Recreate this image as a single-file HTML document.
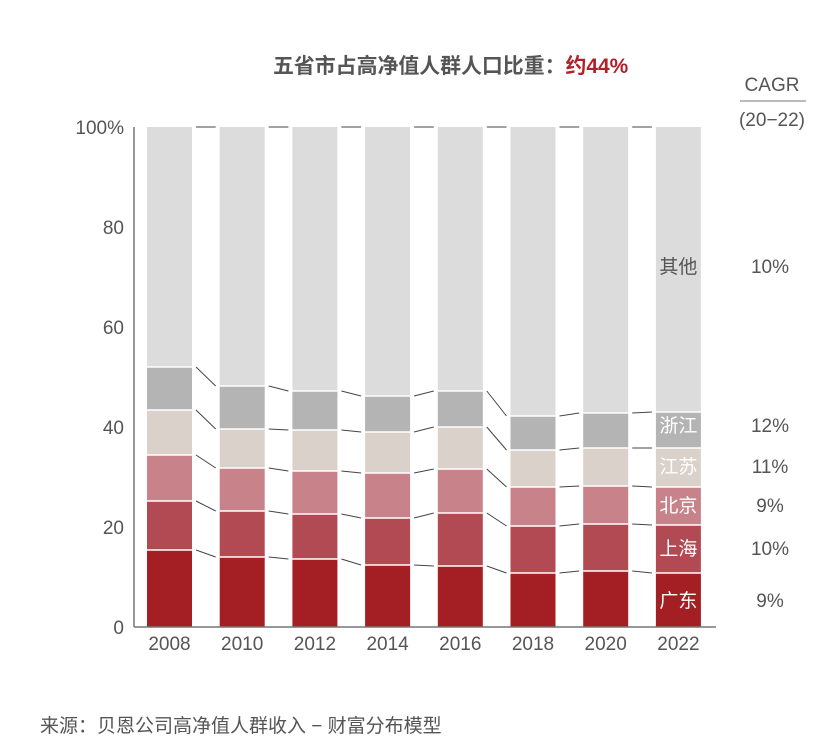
<!DOCTYPE html>
<html><head><meta charset="utf-8">
<style>
body{margin:0;background:#fff;width:817px;height:750px;overflow:hidden}
svg{display:block}
text{font-family:"Liberation Sans","Noto Sans CJK SC",sans-serif}
</style></head><body>
<svg id="s" width="817" height="750" xmlns="http://www.w3.org/2000/svg">
<text x="273" y="73" font-size="20.9" font-weight="bold" fill="#555">五省市占高净值人群人口比重：<tspan fill="#b2202a">约44%</tspan></text>
<text x="772" y="91" font-size="19" fill="#555" text-anchor="middle">CAGR</text>
<line x1="740" y1="101" x2="806" y2="101" stroke="#777" stroke-width="1"/>
<text x="772" y="126" font-size="19" fill="#555" text-anchor="middle">(20−22)</text>
<text x="40" y="732" font-size="19" fill="#555">来源：贝恩公司高净值人群收入 − 财富分布模型</text>
</svg>
<script>
var s=document.getElementById('s'),ns='http://www.w3.org/2000/svg';
function el(t,a,txt){var e=document.createElementNS(ns,t);for(var k in a)e.setAttribute(k,a[k]);if(txt!==undefined)e.textContent=String(txt);s.appendChild(e);return e;}
var Y=function(v){return 627-5*v;};
var years=[2008,2010,2012,2014,2016,2018,2020,2022];
var data=[[15.4,25.2,34.4,43.4,52],[14,23.2,31.8,39.6,48.2],[13.6,22.6,31.2,39.4,47.2],[12.4,21.8,30.8,39,46.2],[12.2,22.8,31.6,40,47.2],[10.8,20.2,28,35.4,42.2],[11.2,20.6,28.2,35.8,42.8],[10.8,20.4,28,35.8,43]];
var cols=['#a31f24','#b14a53','#c8828a','#d9d1ca','#b4b4b4','#dcdcdc'];
var W=45,x0=147,step=72.7;
for(var i=0;i<8;i++){
 var x=x0+i*step,d=[0].concat(data[i]).concat([100]);
 for(var j=0;j<6;j++){
  el('rect',{x:x,y:Y(d[j+1]),width:W,height:Y(d[j])-Y(d[j+1]),fill:cols[j]});
  if(j>0)el('line',{x1:x,x2:x+W,y1:Y(d[j]),y2:Y(d[j]),stroke:'#fff','stroke-width':1.5});
 }
 el('text',{x:x+W/2,y:650,'font-size':19,fill:'#555','text-anchor':'middle'},years[i]);
 if(i<7){
  var n=[0].concat(data[i+1]).concat([100]);
  for(var j=1;j<7;j++)el('line',{x1:x+W+4,y1:Y(d[j]),x2:x+step-4,y2:Y(n[j]),stroke:'#444','stroke-width':1});
 }
}
el('line',{x1:134,y1:127,x2:134,y2:627,stroke:'#777','stroke-width':1.5});
el('line',{x1:134,y1:627,x2:716,y2:627,stroke:'#777','stroke-width':1.5});
[0,20,40,60,80,100].forEach(function(v){el('text',{x:124,y:Y(v)+7,'font-size':19,fill:'#555','text-anchor':'end'},v==100?'100%':v);});
var names=['广东','上海','北京','江苏','浙江','其他'],cg=['9%','10%','9%','11%','12%','10%'];
var cy=[600,548,505,466,425,266];
for(var j=0;j<6;j++){
 var x=x0+7*step;
 el('text',{x:x+W/2,y:cy[j]+7,'font-size':19,fill:j==5?'#555':'#fff','text-anchor':'middle'},names[j]);
 el('text',{x:770,y:cy[j]+7,'font-size':19,fill:'#555','text-anchor':'middle'},cg[j]);
}
</script>
</body></html>
